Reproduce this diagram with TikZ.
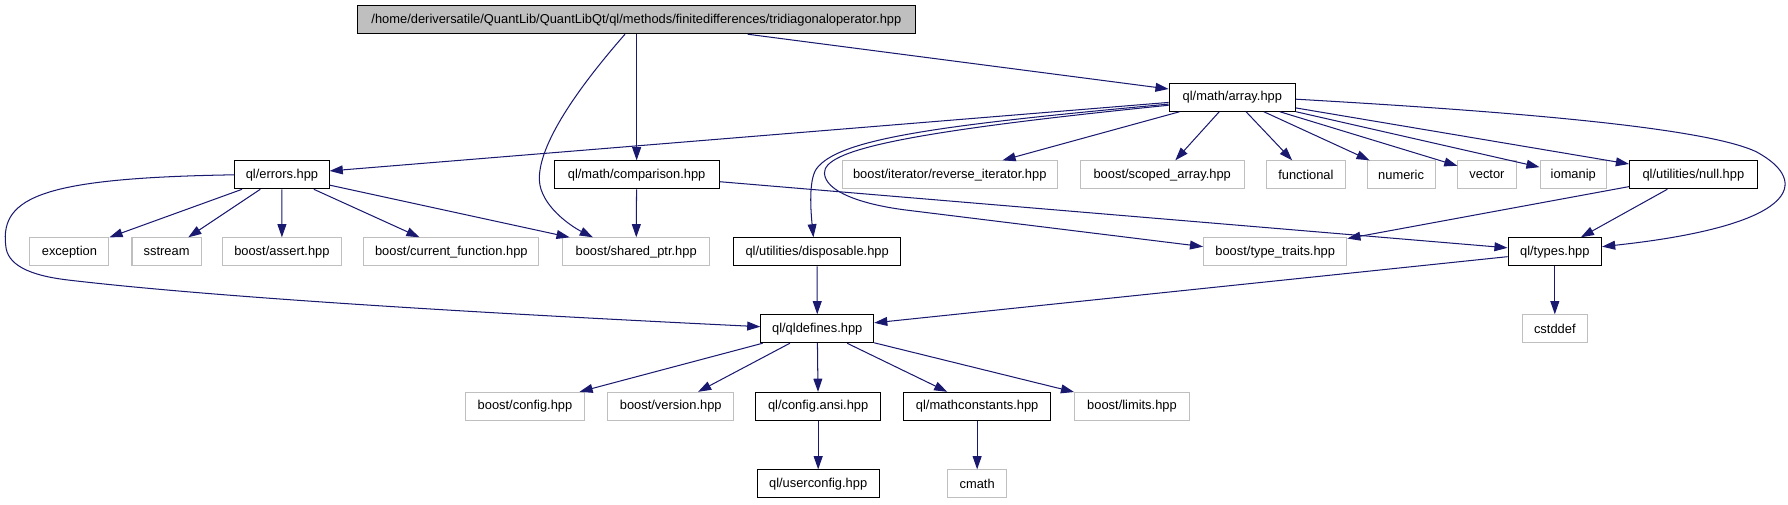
\documentclass[tikz,border=0pt]{standalone}
\usepackage{fontspec}
\setmainfont{Liberation Sans}
\usetikzlibrary{arrows.meta}
\definecolor{edgeblue}{RGB}{25,25,112}
\definecolor{grayline}{RGB}{191,191,191}
\begin{document}
\begin{tikzpicture}[x=1pt,y=1pt,
  box/.style={draw, line width=0.9pt, minimum height=24.5pt, inner sep=0pt,
    font=\fontsize{11.3}{13}\selectfont, anchor=center},
  blk/.style={box, draw=black},
  gry/.style={box, draw=grayline},
  topbox/.style={box, draw=black, fill=grayline},
  dep/.style={draw=edgeblue, line width=0.9pt, -{Triangle[length=11.5pt,width=7.8pt]}}
]
\useasboundingbox (0,0) rectangle (1568,-442);
% rank 0
\node[topbox, minimum width=489.6pt] (top) at (558.1,-17.3) {/home/deriversatile/QuantLib/QuantLibQt/ql/methods/finitedifferences/tridiagonaloperator.hpp};
% rank 1
\node[blk, minimum width=110.9pt] (array) at (1080.7,-85.3) {ql/math/array.hpp};
% rank 2
\node[blk, minimum width=82.7pt] (errors) at (247.3,-153.3) {ql/errors.hpp};
\node[blk, minimum width=144.5pt] (comparison) at (558.3,-153.3) {ql/math/comparison.hpp};
\node[gry, minimum width=188.7pt] (revit) at (832.9,-153.3) {boost/iterator/reverse\_iterator.hpp};
\node[gry, minimum width=143.9pt] (scoped) at (1019.2,-153.3) {boost/scoped\_array.hpp};
\node[gry, minimum width=68.7pt] (functional) at (1145.2,-153.3) {functional};
\node[gry, minimum width=59.7pt] (numeric) at (1228.7,-153.3) {numeric};
\node[gry, minimum width=51pt] (vector) at (1304,-153.3) {vector};
\node[gry, minimum width=58.3pt] (iomanip) at (1379.7,-153.3) {iomanip};
\node[blk, minimum width=112pt] (null) at (1485,-153.3) {ql/utilities/null.hpp};
% rank 3
\node[gry, minimum width=69.3pt] (exception) at (60.9,-220.8) {exception};
\node[gry, minimum width=60.7pt] (sstream) at (146.1,-220.8) {sstream};
\node[gry, minimum width=103.7pt] (assert) at (247.2,-220.8) {boost/assert.hpp};
\node[gry, minimum width=153.7pt] (curfunc) at (395.8,-220.8) {boost/current\_function.hpp};
\node[gry, minimum width=129.2pt] (sharedptr) at (557.9,-220.8) {boost/shared\_ptr.hpp};
\node[blk, minimum width=146.7pt] (disposable) at (716.6,-220.8) {ql/utilities/disposable.hpp};
\node[gry, minimum width=125.6pt] (typetraits) at (1118.3,-220.8) {boost/type\_traits.hpp};
\node[blk, minimum width=82pt] (types) at (1363.5,-220.8) {ql/types.hpp};
% rank 4
\node[blk, minimum width=99pt] (qldefines) at (716.7,-288.3) {ql/qldefines.hpp};
\node[gry, minimum width=57.3pt] (cstddef) at (1363.5,-288.3) {cstddef};
% rank 5
\node[gry, minimum width=104.8pt] (config) at (460.4,-356.3) {boost/config.hpp};
\node[gry, minimum width=110.5pt] (version) at (588.2,-356.3) {boost/version.hpp};
\node[blk, minimum width=109.2pt] (configansi) at (717.5,-356.3) {ql/config.ansi.hpp};
\node[blk, minimum width=128.9pt] (mathconst) at (856.9,-356.3) {ql/mathconstants.hpp};
\node[gry, minimum width=100.7pt] (limits) at (992.7,-356.3) {boost/limits.hpp};
% rank 6
\node[blk, minimum width=107pt] (userconfig) at (717.5,-424.3) {ql/userconfig.hpp};
\node[gry, minimum width=51.9pt] (cmath) at (856.9,-424.3) {cmath};

% edges from top
\draw[dep] (top) -- (array);
\draw[dep] (top.south -| comparison.north) -- (comparison.north);
\draw[dep] ([xshift=-10pt]top.south) .. controls (500,-85) and (472,-130) .. (473,-158)
  .. controls (474,-180) and (500,-198) .. ([xshift=-38pt]sharedptr.north);
% edges from array
\draw[dep] (array) -- (errors);
\draw[dep] ([yshift=-6pt]array.west) .. controls (820,-110) and (735,-122) .. (716,-148)
  .. controls (709,-158) and (711,-185) .. ([xshift=-3.3pt]disposable.north);
\draw[dep] ([yshift=-7pt]array.west) .. controls (790,-116) and (722,-132) .. (723,-152)
  .. controls (724,-168) and (755,-179) .. (793,-184) -- ([yshift=4.5pt]typetraits.west);
\draw[dep] (array) -- (revit);
\draw[dep] (array) -- (scoped);
\draw[dep] (array) -- (functional);
\draw[dep] (array) -- (numeric);
\draw[dep] (array) -- (vector);
\draw[dep] (array) -- (iomanip);
\draw[dep] (array) -- (null);
\draw[dep] ([yshift=-1.7pt]array.east) .. controls (1330,-98) and (1495,-112) .. (1540,-133)
  .. controls (1590,-160) and (1575,-198) .. ([yshift=4.5pt]types.east);
% edges from comparison
\draw[dep] (comparison) -- (sharedptr);
\draw[dep] (comparison) -- (types);
% edges from null
\draw[dep] (null) -- (typetraits);
\draw[dep] (null) -- (types);
% edges from errors
\draw[dep] (errors) -- (exception);
\draw[dep] (errors) -- (sstream);
\draw[dep] (errors) -- (assert);
\draw[dep] (errors) -- (curfunc);
\draw[dep] (errors) -- (sharedptr);
\draw[dep] (errors.west) .. controls (40,-156) and (0,-172) .. (5,-215)
  .. controls (6,-232) and (25,-241.5) .. (60,-245.6)
  .. controls (200,-262) and (450,-276) .. ([yshift=1.8pt]qldefines.west);
% edges from types
\draw[dep] (types) -- (qldefines);
\draw[dep] (types) -- (cstddef);
% disposable
\draw[dep] (disposable) -- (qldefines);
% qldefines
\draw[dep] (qldefines) -- (config);
\draw[dep] (qldefines) -- (version);
\draw[dep] (qldefines) -- (configansi);
\draw[dep] (qldefines) -- (mathconst);
\draw[dep] (qldefines) -- (limits);
\draw[dep] (configansi) -- (userconfig);
\draw[dep] (mathconst) -- (cmath);
\end{tikzpicture}
\end{document}
